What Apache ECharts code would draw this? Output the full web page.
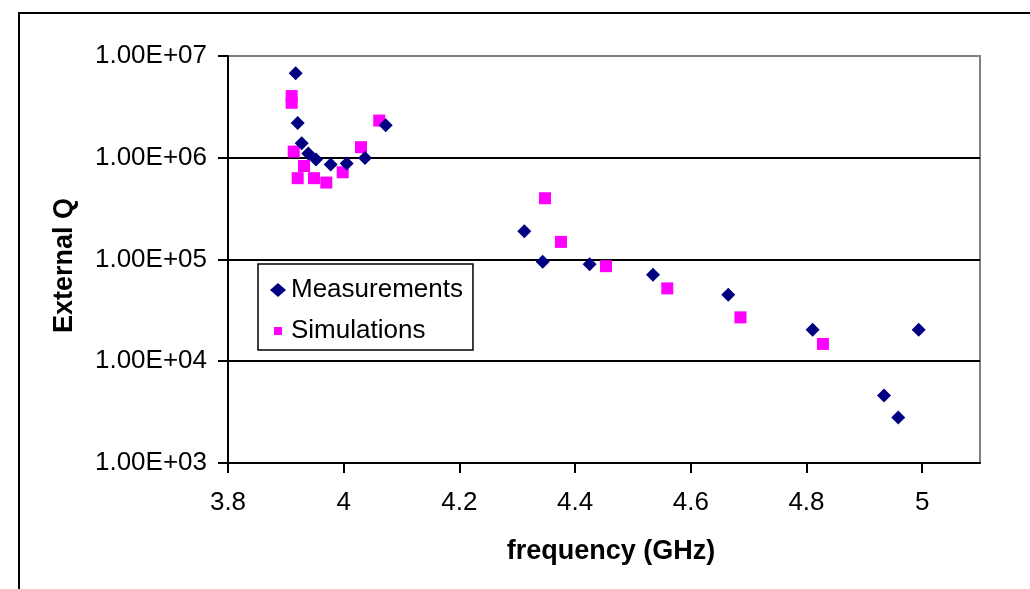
<!DOCTYPE html>
<html>
<head>
<meta charset="utf-8">
<script src="https://cdn.jsdelivr.net/npm/echarts@6/dist/echarts.min.js"></script>
<style>
html,body{margin:0;padding:0;background:#fff;}
#chart{width:1030px;height:589px;}
</style>
</head>
<body>
<div id="chart"></div>
<script>
// ---- data ----
const measFreq = [3.917, 3.9205, 3.9274, 3.9388, 3.9521, 3.9775, 4.0052, 4.0368, 4.0726, 4.3122, 4.344, 4.4252, 4.5347, 4.6648, 4.8107, 4.934, 4.9587, 4.994];
const measQ    = [6.76e6, 2.2e6, 1.39e6, 1.1e6, 9.6e5, 8.6e5, 8.8e5, 9.95e5, 2.09e6, 1.89e5, 9.5e4, 9.0e4, 7.1e4, 4.5e4, 2.04e4, 4.6e3, 2.8e3, 2.04e4];

const simFreq  = [3.9101, 3.9101, 3.9136, 3.9314, 3.9205, 3.9487, 3.9699, 3.9983, 4.0299, 4.0615, 4.348, 4.3756, 4.4534, 4.5594, 4.6859, 4.8285];
const simQ     = [4.04e6, 3.47e6, 1.15e6, 8.3e5, 6.3e5, 6.3e5, 5.7e5, 7.2e5, 1.27e6, 2.32e6, 4.0e5, 1.49e5, 8.6e4, 5.2e4, 2.7e4, 1.48e4];

const seriesNames = ['Measurements', 'Simulations'];
const xTickValues = [3.8, 4.0, 4.2, 4.4, 4.6, 4.8, 5.0];
const xTickLabels = ['3.8', '4', '4.2', '4.4', '4.6', '4.8', '5'];
const yTickValues = [1e3, 1e4, 1e5, 1e6, 1e7];
const yTickLabels = ['1.00E+03', '1.00E+04', '1.00E+05', '1.00E+06', '1.00E+07'];
const xTitle = 'frequency (GHz)';
const yTitle = 'External Q';

const FONT = '"Liberation Sans", Arial, sans-serif';
const pairs = (xs, ys) => xs.map((x, i) => [x, ys[i]]);
const lookup = (vals, labels, v) => {
  for (let i = 0; i < vals.length; i++) {
    if (Math.abs(vals[i] - v) <= Math.abs(vals[i]) * 1e-6 + 1e-9) return labels[i];
  }
  return '';
};

const chart = echarts.init(document.getElementById('chart'), null, {renderer: 'canvas'});
chart.setOption({
  animation: false,
  backgroundColor: '#fff',
  graphic: [{
    type: 'rect', z: -10, silent: true,
    shape: {x: 19, y: 13, width: 2000, height: 2000},
    style: {fill: 'none', stroke: '#000', lineWidth: 2}
  }],
  grid: {
    left: 228, right: 50, top: 56, bottom: 126,
    show: true, borderColor: '#808080', borderWidth: 2, backgroundColor: 'transparent'
  },
  legend: {
    orient: 'vertical',
    left: 258, top: 264,
    data: [
      {name: seriesNames[0], icon: 'diamond'},
      {name: seriesNames[1], icon: 'path://M0,0M16,14M4,3L12,3L12,11L4,11Z'}
    ],
    itemWidth: 16, itemHeight: 14, itemGap: 15,
    padding: [13, 10, 6, 12],
    borderColor: '#000', borderWidth: 1.5,
    backgroundColor: '#fff',
    textStyle: {fontFamily: FONT, fontSize: 26, color: '#000'}
  },
  xAxis: {
    type: 'value', min: 3.8, max: 5.1, interval: 0.2,
    name: xTitle, nameLocation: 'middle', nameGap: 75,
    nameTextStyle: {fontFamily: FONT, fontSize: 27, fontWeight: 'bold', color: '#000', padding: [0, 0, 0, 14]},
    axisLine: {lineStyle: {color: '#000', width: 2}},
    axisTick: {show: true, length: 10, lineStyle: {color: '#000', width: 2}, customValues: xTickValues},
    axisLabel: {
      fontFamily: FONT, fontSize: 26, color: '#000', margin: 27,
      customValues: xTickValues,
      formatter: v => lookup(xTickValues, xTickLabels, v)
    },
    splitLine: {show: false}
  },
  yAxis: {
    type: 'log', logBase: 10, min: 1e3, max: 1e7,
    name: yTitle, nameLocation: 'middle', nameGap: 150, nameRotate: 90,
    nameTextStyle: {fontFamily: FONT, fontSize: 27, fontWeight: 'bold', color: '#000', padding: [0, 12, 0, 0]},
    axisLine: {show: true, lineStyle: {color: '#000', width: 2}},
    axisTick: {show: true, length: 10, lineStyle: {color: '#000', width: 2}},
    minorTick: {show: false},
    axisLabel: {
      fontFamily: FONT, fontSize: 26, color: '#000', margin: 21,
      formatter: v => lookup(yTickValues, yTickLabels, v)
    },
    splitLine: {show: true, showMinLine: false, showMaxLine: false, lineStyle: {color: '#000', width: 2}}
  },
  series: [
    {
      name: seriesNames[0], type: 'scatter', z: 4,
      symbol: 'diamond', symbolSize: 14,
      itemStyle: {color: '#000080', opacity: 1},
      data: pairs(measFreq, measQ)
    },
    {
      name: seriesNames[1], type: 'scatter', z: 3,
      symbol: 'rect', symbolSize: 12,
      itemStyle: {color: '#FF00FF', opacity: 1},
      data: pairs(simFreq, simQ)
    }
  ]
});
</script>
</body>
</html>
